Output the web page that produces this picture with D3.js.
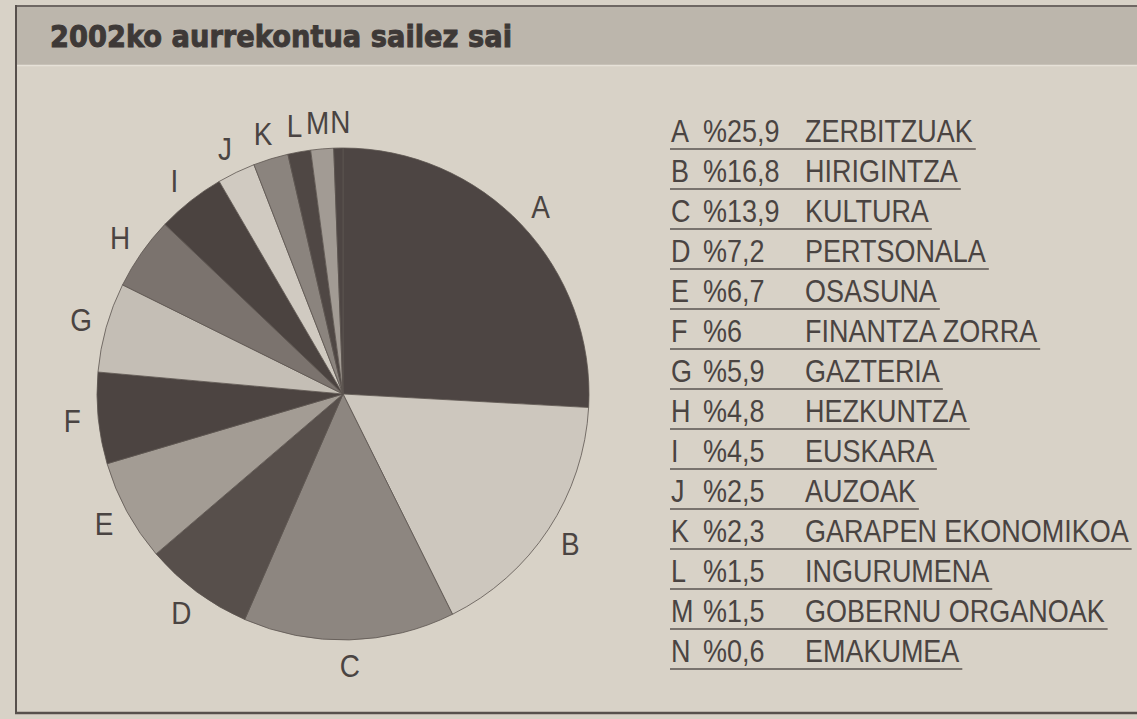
<!DOCTYPE html>
<html>
<head>
<meta charset="utf-8">
<script src="https://cdn.jsdelivr.net/npm/d3@7"></script>
<style>
  body { margin: 0; background: #d7d1c6; }
  svg { display: block; }
</style>
</head>
<body>
<div id="chart"></div>
<script>
const title = '2002ko aurrekontua sailez sai';
const letters = ['A', 'B', 'C', 'D', 'E', 'F', 'G', 'H', 'I', 'J', 'K', 'L', 'M', 'N'];
const values = [25.9, 16.8, 13.9, 7.2, 6.7, 6, 5.9, 4.8, 4.5, 2.5, 2.3, 1.5, 1.5, 0.6];
const names = ['ZERBITZUAK', 'HIRIGINTZA', 'KULTURA', 'PERTSONALA', 'OSASUNA', 'FINANTZA ZORRA',
  'GAZTERIA', 'HEZKUNTZA', 'EUSKARA', 'AUZOAK', 'GARAPEN EKONOMIKOA', 'INGURUMENA',
  'GOBERNU ORGANOAK', 'EMAKUMEA'];
// grey shade of each slice
const shades = ['#4d4543', '#cdc7be', '#8d8680', '#574f4b', '#a39c94', '#4c4441', '#c4beb5',
  '#7b736e', '#4b4340', '#d0cac1', '#8b847e', '#4f4744', '#a29b94', '#4d4543'];

const W = 1137, H = 719;
const data = letters.map((l, i) => ({ letter: l, value: values[i], name: names[i], shade: shades[i] }));

const svg = d3.select('#chart').append('svg').attr('width', W).attr('height', H);

// paper
svg.append('rect').attr('width', W).attr('height', H).attr('fill', '#d8d2c7');

// title bar
svg.append('rect').attr('x', 16).attr('y', 6).attr('width', W - 16).attr('height', 59).attr('fill', '#bcb6ac');
svg.append('line').attr('x1', 16).attr('x2', W).attr('y1', 6).attr('y2', 6)
  .attr('stroke', '#6e6763').attr('stroke-width', 2);
svg.append('line').attr('x1', 16).attr('x2', W).attr('y1', 65.5).attr('y2', 65.5)
  .attr('stroke', '#e6e1d8').attr('stroke-width', 1.5);

// frame
svg.append('line').attr('x1', 16).attr('x2', 16).attr('y1', 5).attr('y2', 713)
  .attr('stroke', '#57504c').attr('stroke-width', 2);
svg.append('line').attr('x1', 15).attr('x2', W).attr('y1', 713).attr('y2', 713)
  .attr('stroke', '#57504c').attr('stroke-width', 2.5);

svg.append('text')
  .attr('x', 50).attr('y', 47)
  .attr('textLength', 462).attr('lengthAdjust', 'spacingAndGlyphs')
  .style('font-family', '"DejaVu Sans", sans-serif')
  .style('font-weight', 'bold')
  .style('font-size', '31px')
  .style('fill', '#3e3937')
  .style('stroke', '#3e3937')
  .style('stroke-width', 1)
  .text(title);

// pie
const cx = 343, cy = 394, r = 246;
const g = svg.append('g').attr('transform', `translate(${cx},${cy})`);

const pie = d3.pie().sort(null).value((d) => d.value);
const arc = d3.arc().innerRadius(0).outerRadius(r);
const labelArc = d3.arc().innerRadius(272).outerRadius(272);
const arcs = pie(data);

g.selectAll('path.slice')
  .data(arcs)
  .join('path')
  .attr('class', 'slice')
  .attr('d', arc)
  .attr('fill', (d) => d.data.shade)
  .attr('stroke', '#5d5551')
  .attr('stroke-width', 0.8);

// label spots, pushed apart where neighbours would collide
const spots = arcs.map((d) => labelArc.centroid(d));
for (let i = spots.length - 1; i > 0; i--) {
  const a = spots[i - 1], b = spots[i];
  if (Math.abs(a[1] - b[1]) < 20 && b[0] - a[0] < 23) {
    const push = (23 - (b[0] - a[0])) / 2;
    a[0] -= push; b[0] += push;
  }
}

g.selectAll('text.lbl')
  .data(arcs)
  .join('text')
  .attr('class', 'lbl')
  .attr('transform', (d, i) => `translate(${spots[i][0]},${spots[i][1] + 11}) scale(0.9,1)`)
  .attr('text-anchor', 'middle')
  .style('font-family', '"Liberation Sans", Arial, sans-serif')
  .style('font-size', '31px')
  .style('fill', '#4a4442')
  .text((d) => d.data.letter);

// legend
const row = d3.scalePoint().domain(letters).range([142, 662]);
const fmt = (v) => '%' + String(v).replace('.', ',');
const sx = 0.87;

const leg = svg.append('g')
  .style('font-family', '"Liberation Sans", Arial, sans-serif')
  .style('font-size', '31px')
  .style('fill', '#4a4442');

const items = leg.selectAll('g.item').data(data).join('g').attr('class', 'item')
  .attr('transform', (d) => `translate(0,${row(d.letter)})`);

items.append('text').attr('transform', `translate(671,0) scale(${sx},1)`).text((d) => d.letter);
items.append('text').attr('transform', `translate(703,0) scale(${sx},1)`).text((d) => fmt(d.value));
const nm = items.append('text').attr('transform', `translate(805,0) scale(${sx},1)`).text((d) => d.name);

nm.each(function (d) {
  const w = this.getComputedTextLength() * sx;
  d3.select(this.parentNode).append('line')
    .attr('x1', 670).attr('x2', 805 + w + 3)
    .attr('y1', 7).attr('y2', 7)
    .attr('stroke', '#5a5350').attr('stroke-width', 1.6);
});
</script>
</body>
</html>
